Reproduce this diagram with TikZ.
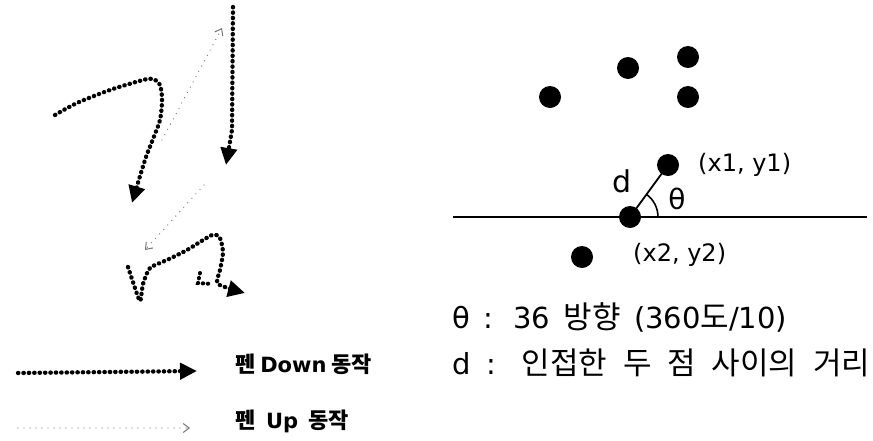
\documentclass[tikz,border=0pt]{standalone}
\usepackage{fontspec}
\setmainfont{DejaVu Sans}
\newfontfamily\kr{Noto Sans CJK KR}
\newfontfamily\krb{Noto Sans CJK KR Bold}
\usetikzlibrary{arrows.meta}
\begin{document}
\begin{tikzpicture}[x=1pt,y=-1pt,
  down/.style={line width=4.3pt, line cap=round, dash pattern=on 0.4pt off 5pt,
    -{Triangle[length=17pt,width=16pt]}},
  upmove/.style={black!55, line width=1.3pt, line cap=round, dash pattern=on 0pt off 6pt,
    -{Straight Barb[length=6pt,width=9pt,line width=1pt]}},
  dot/.style={circle, fill=black, minimum size=22pt, inner sep=0pt},
  lbl/.style={inner sep=0pt, anchor=west},
  axisline/.style={line width=1.8pt}]
\useasboundingbox (0,0) rectangle (873,440);

% ---- left: pen strokes ----
\coordinate (s1a) at (55,115);
\coordinate (s1b) at (132,203);
\draw[down] plot[smooth, tension=0.5] coordinates {(s1a) (77,103) (110,90) (143,80) (153,79) (160,85) (162,100) (160,120) (153,139) (145,160) (s1b)};

\coordinate (u1a) at (162,140);
\coordinate (u1b) at (222,28);
\draw[upmove] (u1a) -- (u1b);

\coordinate (s2a) at (233,7);
\coordinate (s2b) at (226,165);
\draw[down] (s2a) -- (232,130) -- (s2b);

\coordinate (u2a) at (204,185);
\coordinate (u2b) at (145,250);
\draw[upmove] (u2a) -- (u2b);

\coordinate (s3a) at (128,267);
\coordinate (s3b) at (245,293);
\draw[down] plot[smooth, tension=0.4] coordinates {(s3a) (133,282) (140,301) (143,284) (150,268) (167,260) (187,250) (212,235) (220,238) (223,253) (220,270) (218,284) (s3b)};
\draw[line width=4pt, line cap=round, dash pattern=on 0.4pt off 4.6pt] (200,273) -- (198,283) -- (212,284);

% ---- legend ----
\coordinate (ld1) at (18,373);
\coordinate (ld2) at (197,371);
\draw[down] (ld1) -- (ld2);
\coordinate (lu1) at (18,428);
\coordinate (lu2) at (190,428);
\draw[upmove] (lu1) -- (lu2);
\node[lbl, font=\bfseries\fontsize{21}{21}\selectfont] (tdown) at (235,364) {\makebox[135pt][s]{{\krb\fontsize{22}{22}\selectfont 펜} Down {\krb\fontsize{22}{22}\selectfont 동작}}};
\node[lbl, font=\bfseries\fontsize{21}{21}\selectfont] (tup) at (235,421) {\makebox[114pt][s]{{\krb\fontsize{22}{22}\selectfont 펜} Up {\krb\fontsize{22}{22}\selectfont 동작}}};

% ---- right: points ----
\node[dot] (a) at (550,97) {};
\node[dot] (b) at (628,68) {};
\node[dot] (c) at (688,57) {};
\node[dot] (e) at (688,97) {};
\node[dot] (p1) at (668,165) {};
\node[dot] (p2) at (630,217) {};
\node[dot] (f) at (582,257) {};
\coordinate (hl) at (453,217);
\coordinate (hr) at (867,217);
\draw[axisline] (hl) -- (hr);
\draw[axisline] (p2.center) -- (p1.center);
\draw[line width=1.6pt] ([xshift=28pt]p2.center) arc[start angle=0, end angle=54, radius=28pt];

\node[font=\fontsize{30}{30}\selectfont, inner sep=0pt] (dl) at (622,181) {d};
\node[font=\fontsize{28}{28}\selectfont, inner sep=0pt] (th) at (677,199) {θ};
\node[lbl, font=\fontsize{24}{24}\selectfont] (l1) at (698,165) {(x1, y1)};
\node[lbl, font=\fontsize{24}{24}\selectfont] (l2) at (633,255) {(x2, y2)};

\node[lbl, font=\fontsize{29}{29}\selectfont] (t1) at (452,317) {\makebox[335pt][s]{θ : 36 {\kr\fontsize{31}{31}\selectfont 방향} (360{\kr\fontsize{31}{31}\selectfont 도}/10)}};
\node[lbl, font=\fontsize{29}{29}\selectfont] (t2) at (452,363) {\makebox[418pt][s]{d : {\kr\fontsize{31}{31}\selectfont 인접한} {\kr\fontsize{31}{31}\selectfont 두} {\kr\fontsize{31}{31}\selectfont 점} {\kr\fontsize{31}{31}\selectfont 사이의} {\kr\fontsize{31}{31}\selectfont 거리}}};
\end{tikzpicture}
\end{document}
